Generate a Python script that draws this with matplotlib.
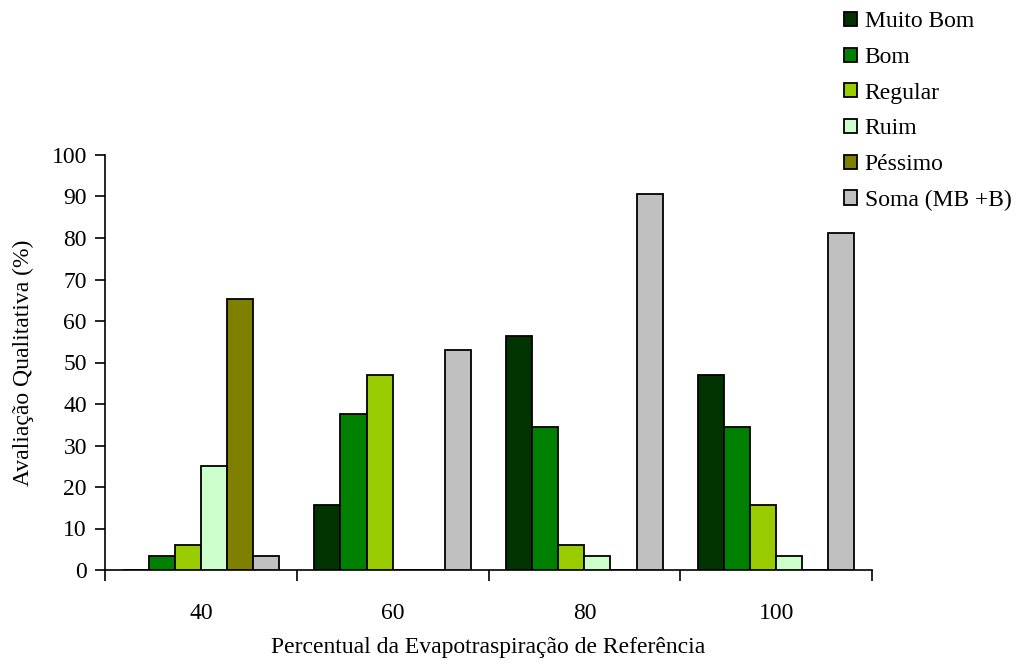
import numpy as np
import matplotlib
matplotlib.use('Agg')
import matplotlib.pyplot as plt

# dados por percentual da ETo (%)
percentuais = ['40', '60', '80', '100']
muito_bom = [0, 15.6, 56.3, 46.9]
bom = [3.3, 37.5, 34.4, 34.4]
regular = [6.1, 46.9, 6.1, 15.6]
ruim = [25.0, 0, 3.3, 3.3]
pessimo = [65.4, 0, 0, 0]
soma_mb_b = [3.3, 53.1, 90.6, 81.3]

series = [
    ('Muito Bom', muito_bom, '#003300'),
    ('Bom', bom, '#008000'),
    ('Regular', regular, '#99CC00'),
    ('Ruim', ruim, '#CCFFCC'),
    ('Péssimo', pessimo, '#808000'),
    ('Soma (MB +B)', soma_mb_b, '#C0C0C0'),
]

plt.rcParams['font.family'] = ['Liberation Serif', 'DejaVu Serif']
plt.rcParams['font.size'] = 17

fig = plt.figure(figsize=(10.18, 6.66), dpi=100)
ax = fig.add_axes([105 / 1018, 1 - 570 / 666, 767 / 1018, 415 / 666])

x = np.arange(len(percentuais))
largura = 0.136
for i, (nome, vals, cor) in enumerate(series):
    desloc = (i - 2.5) * largura
    ax.bar(x + desloc, vals, largura, color=cor, edgecolor='black',
           linewidth=1.3, label=nome, zorder=3)

ax.set_xlim(-0.5, len(percentuais) - 0.5)
ax.set_ylim(0, 100)
ax.set_yticks(np.arange(0, 101, 10))

# marcas de divisao entre grupos e rótulos no centro
ax.set_xticks(np.arange(-0.5, len(percentuais)), minor=False)
ax.set_xticklabels([])
ax.set_xticks(x, minor=True)
ax.set_xticklabels(percentuais, minor=True)
ax.tick_params(axis='x', which='major', direction='out', length=8, width=1.2)
ax.tick_params(axis='x', which='minor', length=0, pad=24)
ax.tick_params(axis='y', direction='out', length=7, width=1.2, pad=6)

for lado in ['top', 'right']:
    ax.spines[lado].set_visible(False)
for lado in ['left', 'bottom']:
    ax.spines[lado].set_linewidth(1.2)

ax.set_ylabel('Avaliação Qualitativa (%)', labelpad=13)
ax.set_xlabel('Percentual da Evapotraspiração de Referência', labelpad=9)

ax.legend(loc='upper left', bbox_to_anchor=(835 / 1018, 1 - 2 / 666),
          bbox_transform=fig.transFigure, frameon=False,
          handlelength=0.55, handleheight=0.55, handletextpad=0.3,
          labelspacing=0.62, borderaxespad=0)

fig.savefig('out.png', dpi=100)
